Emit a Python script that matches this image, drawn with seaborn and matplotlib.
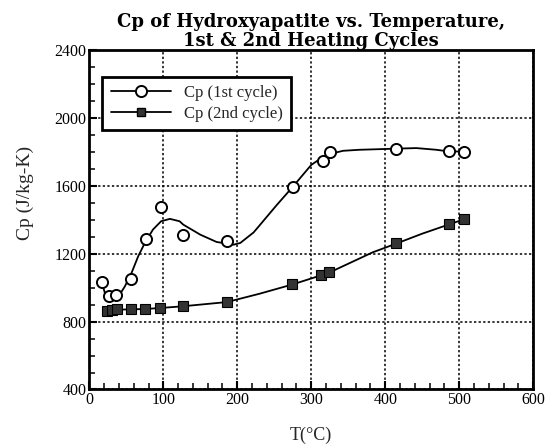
import matplotlib
matplotlib.use("Agg")
import matplotlib.pyplot as plt
from matplotlib.lines import Line2D
from matplotlib.ticker import MultipleLocator
import seaborn as sns

# measured points, 1st heating cycle (open circles)
t1 = [17, 26, 36, 57, 77, 97, 126, 186, 275, 316, 325, 415, 486, 506]
cp1 = [1036, 948, 955, 1052, 1289, 1476, 1312, 1275, 1595, 1745, 1800, 1815, 1805, 1800]

# measured points, 2nd heating cycle (filled squares)
t2 = [24, 30, 37, 56, 75, 96, 126, 186, 274, 313, 324, 414, 486, 506]
cp2 = [860, 866, 872, 872, 873, 880, 891, 916, 1020, 1073, 1090, 1260, 1375, 1405]

# fitted curves
fit1_t = [19, 21, 25, 30, 39, 48, 57, 66, 75, 86, 97, 109, 122, 127, 150, 172,
          195, 204, 222, 230, 253, 275, 300, 320, 343, 365, 410, 442, 469, 486, 506]
fit1_cp = [1000, 968, 939, 935, 945, 1007, 1086, 1184, 1263, 1342, 1391, 1405,
           1391, 1371, 1312, 1269, 1253, 1263, 1325, 1366, 1485, 1594, 1723,
           1782, 1806, 1812, 1818, 1822, 1812, 1802, 1802]
fit2_t = [22, 37, 56, 75, 96, 126, 186, 230, 274, 313, 324, 383, 414, 450, 486, 506]
fit2_cp = [858, 870, 872, 874, 880, 890, 915, 964, 1018, 1072, 1088, 1208, 1258,
           1318, 1372, 1402]

sns.set_style("ticks")
plt.rcParams["font.family"] = ["Liberation Serif", "DejaVu Serif"]

fig = plt.figure(figsize=(5.49, 4.46), dpi=100)
ax = fig.add_axes([0.1627, 0.1267, 0.8086, 0.7613])

sns.lineplot(x=fit1_t, y=fit1_cp, ax=ax, color="black", linewidth=1.3, sort=False)
sns.lineplot(x=fit2_t, y=fit2_cp, ax=ax, color="black", linewidth=1.3, sort=False)
ax.plot(t1, cp1, linestyle="none", marker="o", markersize=8, markerfacecolor="white",
        markeredgecolor="black", markeredgewidth=1.4, zorder=4)
ax.plot(t2, cp2, linestyle="none", marker="s", markersize=6.5, markerfacecolor="#333333",
        markeredgecolor="black", markeredgewidth=0.8, zorder=4)

ax.set_xlim(0, 600)
ax.set_ylim(400, 2400)
ax.xaxis.set_major_locator(MultipleLocator(100))
ax.xaxis.set_minor_locator(MultipleLocator(20))
ax.yaxis.set_major_locator(MultipleLocator(400))
ax.yaxis.set_minor_locator(MultipleLocator(100))
ax.tick_params(which="major", direction="in", length=6, width=1.5, labelsize=11.5,
               colors="black", pad=2)
ax.tick_params(which="minor", direction="in", length=4, width=1.3)
ax.grid(True, which="major", color="black", linestyle=(0, (1.5, 1.5)), linewidth=1.1)

for s in ax.spines.values():
    s.set_visible(True)
    s.set_linewidth(2)
    s.set_color("black")

ax.set_xlabel("T(°C)", fontsize=13, labelpad=13)
ax.set_ylabel("Cp (J/kg-K)", fontsize=14)
ax.yaxis.set_label_coords(-0.125, 0.58)
ax.set_title("Cp of Hydroxyapatite vs. Temperature,\n1st & 2nd Heating Cycles",
             fontsize=13, fontweight="bold", family="DejaVu Serif", color="black",
             linespacing=1.05, pad=2)

handles = [
    Line2D([], [], color="black", linewidth=1.3, marker="o", markersize=8,
           markerfacecolor="white", markeredgecolor="black", markeredgewidth=1.4),
    Line2D([], [], color="black", linewidth=1.3, marker="s", markersize=6,
           markerfacecolor="#333333", markeredgecolor="black"),
]
leg = ax.legend(handles, ["Cp (1st cycle)", "Cp (2nd cycle)"], loc="upper left",
                bbox_to_anchor=(0.029, 0.921), borderaxespad=0, fontsize=12,
                handlelength=3.6, frameon=True, fancybox=False, framealpha=1,
                edgecolor="black", labelspacing=0.3, borderpad=0.5)
leg.get_frame().set_linewidth(2)

fig.savefig("out.png", dpi=100)
